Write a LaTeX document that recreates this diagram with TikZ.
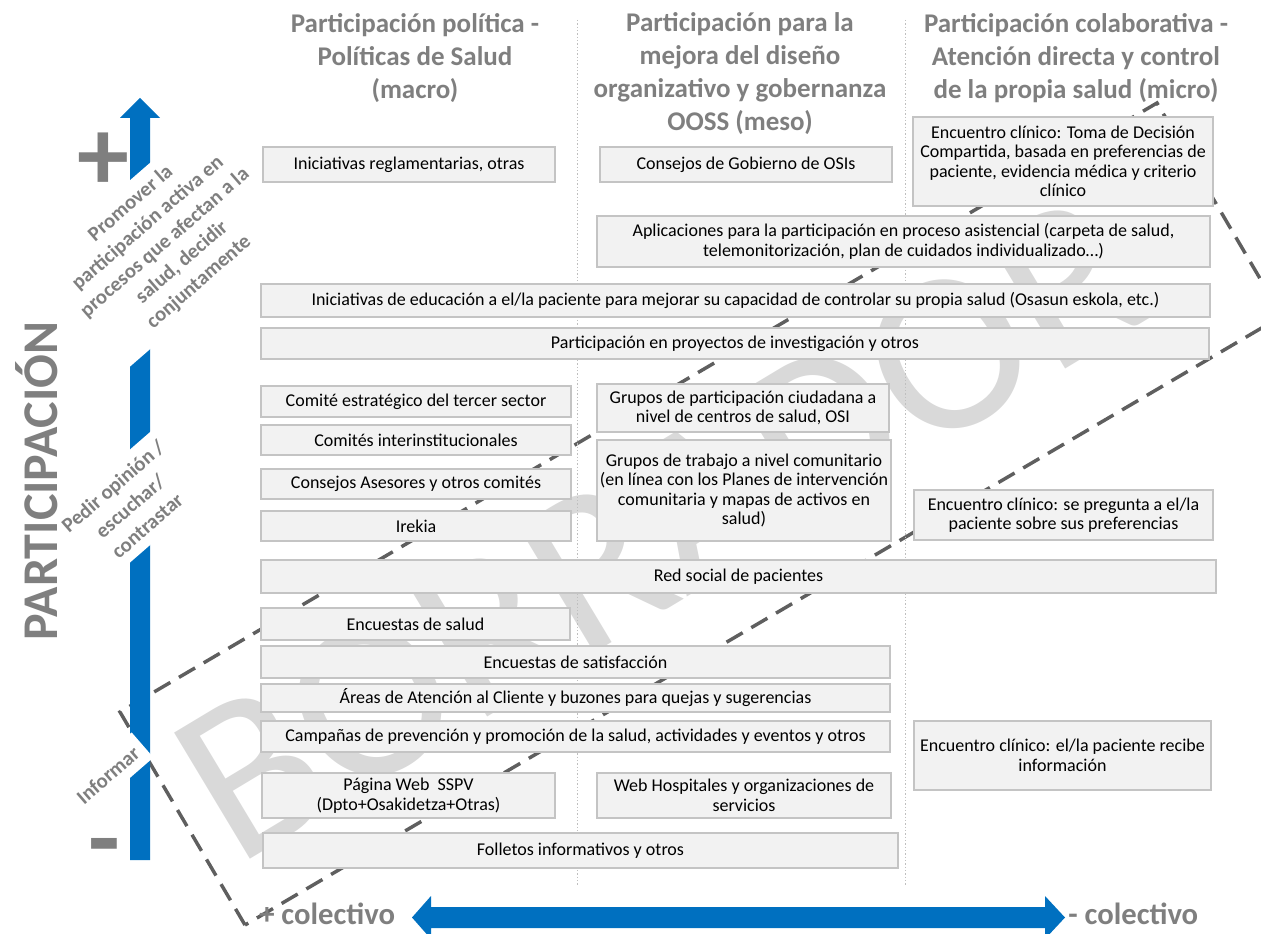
\documentclass[tikz,border=0pt]{standalone}
\usepackage{fontspec}
\setmainfont{Carlito}
\definecolor{blu}{HTML}{0070C0}
\definecolor{gtxt}{HTML}{7F7F7F}
\definecolor{wmcol}{HTML}{D9D9D9}
\definecolor{bfill}{HTML}{F2F2F2}
\definecolor{bline}{HTML}{C4C4C4}
\definecolor{dashcol}{HTML}{5F5F5F}
\definecolor{sepcol}{HTML}{BFBFBF}
% box from corners: name, x1, y1, x2, y2, text
\newcommand{\boxnode}[6]{\node[box, minimum width={(#4-#2)*0.75pt}, minimum height={(#5-#3)*0.75pt}] (#1) at ({(#2+#4)/2},{(#3+#5)/2}) {#6};}
\begin{document}
\begin{tikzpicture}[x=0.75pt,y=-0.75pt,
  box/.style={draw=bline, line width=1.1pt, fill=bfill, inner sep=0pt, align=center,
    font=\fontsize{13.5}{14.6}\selectfont},
  head/.style={text=gtxt, align=center, inner sep=0pt, font=\bfseries\fontsize{20.25}{24.75}\selectfont},
  lab/.style={text=gtxt, fill=white, align=center, inner xsep=6pt, inner ysep=7pt, rotate=41,
    font=\bfseries\fontsize{15.5}{19.5}\selectfont},
  side/.style={text=gtxt, inner sep=0pt, font=\bfseries\fontsize{23}{23}\selectfont},
  sign/.style={text=gtxt, inner sep=0pt, font=\bfseries\fontsize{78}{78}\selectfont},
  sepline/.style={draw=sepcol, line width=0.75pt, dash pattern=on 1pt off 1.5pt},
  frame/.style={draw=dashcol, line width=2.6pt, dash pattern=on 14pt off 7.5pt}]
\useasboundingbox (0,0) rectangle (1261,934);
% watermark
\node[text=wmcol, font=\fontsize{172}{172}\selectfont, rotate=31, anchor=base west, inner sep=0pt] (wmk) at (236,868) {BORRADOR};
% dashed frame
\coordinate (cB) at (245,925);
\coordinate (cL) at (120,712);
\coordinate (cT) at (1157,103);
\coordinate (cR) at (1282,316);
\draw[frame] (cB) -- (cL) -- (cT) -- (cR) -- cycle;
% column separators
\coordinate (s1a) at (577,20); \coordinate (s1b) at (577,885);
\coordinate (s2a) at (905,20); \coordinate (s2b) at (905,885);
\draw[sepline] (s1a) -- (s1b);
\draw[sepline] (s2a) -- (s2b);
% vertical arrow
\fill[blu] (130,860) -- (130,118) -- (120,118) -- (140,98) -- (160,118) -- (150,118) -- (150,860) -- cycle;
% horizontal arrow
\fill[blu] (412,917.5) -- (431,896) -- (431,907) -- (1045,907) -- (1045,896) -- (1065,917.5) -- (1045,939) -- (1045,928) -- (431,928) -- (431,939) -- cycle;
% left labels
\node[lab] (l1) at (165,243) {Promover la\\participación activa en\\procesos que afectan a la\\salud, decidir\\conjuntamente};
\node[lab] (l2) at (130,506) {Pedir opinión /\\escuchar/\\contrastar};
\node[lab] (l3) at (108,775) {Informar};
\node[sign, anchor=base] (plus) at (103,191) {+};
\node[sign, anchor=base] (minus) at (104,873) {-};
\node[text=gtxt, inner sep=0pt, rotate=90, font=\bfseries\fontsize{37.5}{40}\selectfont] (part) at (37,481) {PARTICIPACIÓN};
% headers
\node[head] (h1) at (415,58) {Participación política -\\Políticas de Salud\\(macro)};
\node[head] (h2) at (740,74) {Participación para la\\mejora del diseño\\organizativo y gobernanza\\OOSS (meso)};
\node[head] (h3) at (1076,58) {Participación colaborativa -\\Atención directa y control\\de la propia salud (micro)};
% boxes
\boxnode{b1}{263}{147}{555}{182}{Iniciativas reglamentarias, otras}
\boxnode{b2}{600}{147}{892}{182}{Consejos de Gobierno de OSIs}
\boxnode{b3}{913}{117}{1213}{206}{Encuentro clínico: Toma de Decisión\\Compartida, basada en preferencias de\\paciente, evidencia médica y criterio\\clínico}
\boxnode{b4}{597}{216}{1210}{267}{Aplicaciones para la participación en proceso asistencial (carpeta de salud,\\telemonitorización, plan de cuidados individualizado…)}
\boxnode{b5}{261}{284}{1210}{317}{Iniciativas de educación a el/la paciente para mejorar su capacidad de controlar su propia salud (Osasun eskola, etc.)}
\boxnode{b6}{261}{328}{1209}{359}{Participación en proyectos de investigación y otros}
\boxnode{b7}{261}{386}{571}{417}{Comité estratégico del tercer sector}
\boxnode{b8}{261}{425}{571}{455}{Comités interinstitucionales}
\boxnode{b9}{261}{469}{571}{499}{Consejos Asesores y otros comités}
\boxnode{b10}{261}{511}{571}{541}{Irekia}
\boxnode{b11}{597}{384}{889}{432}{Grupos de participación ciudadana a\\nivel de centros de salud, OSI}
\boxnode{b12}{597}{440}{891}{541}{Grupos de trabajo a nivel comunitario\\(en línea con los Planes de intervención\\comunitaria y mapas de activos en\\salud)}
\boxnode{b13}{914}{490}{1213}{540}{Encuentro clínico: se pregunta a el/la\\paciente sobre sus preferencias}
\boxnode{b14}{261}{560}{1216}{593}{Red social de pacientes}
\boxnode{b15}{261}{608}{570}{640}{Encuestas de salud}
\boxnode{b16}{261}{646}{890}{678}{Encuestas de satisfacción}
\boxnode{b17}{261}{684}{890}{712}{Áreas de Atención al Cliente y buzones para quejas y sugerencias}
\boxnode{b18}{261}{721}{890}{752}{Campañas de prevención y promoción de la salud, actividades y eventos y otros}
\boxnode{b19}{914}{721}{1211}{790}{Encuentro clínico: el/la paciente recibe\\información}
\boxnode{b20}{262}{773}{555}{818}{Página Web\ \ SSPV\\(Dpto+Osakidetza+Otras)}
\boxnode{b21}{597}{773}{891}{818}{Web Hospitales y organizaciones de\\servicios}
\boxnode{b22}{263}{833}{898}{868}{Folletos informativos y otros}
% bottom axis labels
\node[side, anchor=west] (pc) at (259,914) {+ colectivo};
\node[side, anchor=west] (mc) at (1068,914) {- colectivo};
\end{tikzpicture}
\end{document}
